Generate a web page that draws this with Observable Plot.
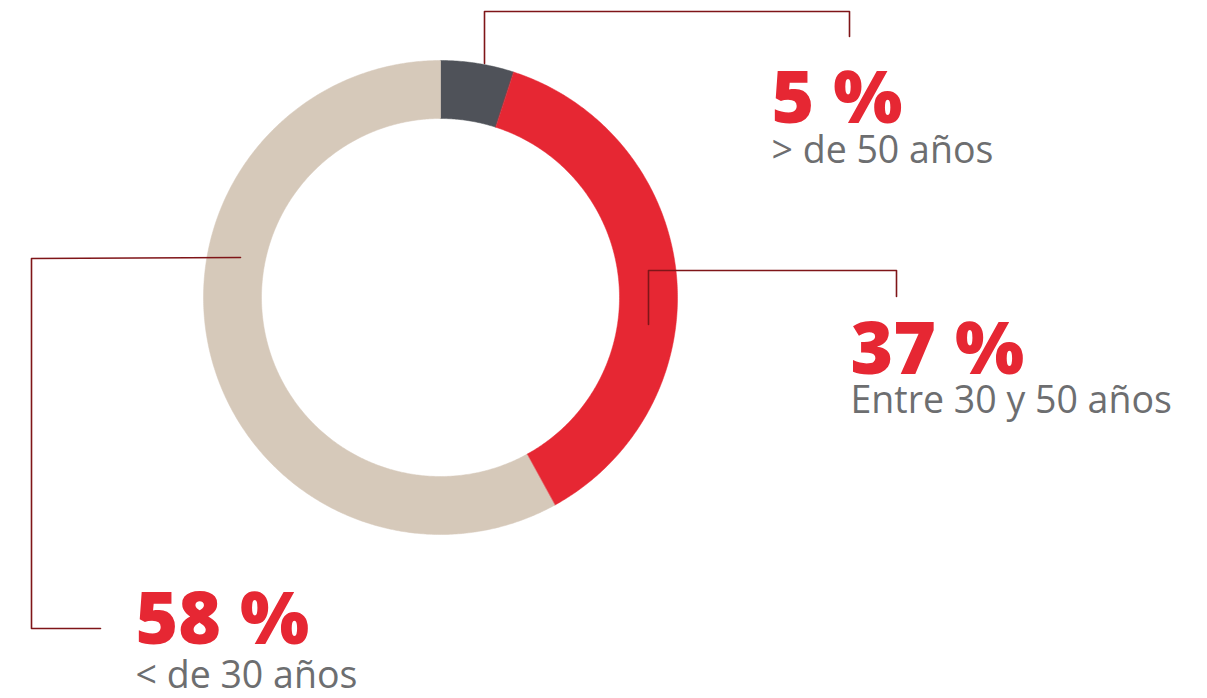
<!DOCTYPE html>
<html><head><meta charset="utf-8">
<script src="https://cdn.jsdelivr.net/npm/d3@7"></script>
<script src="https://cdn.jsdelivr.net/npm/@observablehq/plot@0.6"></script>
<style>html,body{margin:0;padding:0;background:#fff}</style>
</head><body><div id="chart"></div>
<script>
// ---- data ----
const groups = ["> de 50 años", "Entre 30 y 50 años", "< de 30 años"];
const shares = [5, 37, 58];
const pctLabels = ["5 %", "37 %", "58 %"];
const colors = ["#4f5259", "#e62733", "#d6c9ba"];

// ---- layout (pixels) ----
const W = 1207, H = 698;
const cx = 440, cy = 297, rOuter = 237, rInner = 179;
const labelPos = [
  {x: 771, yBig: 122, ySmall: 162},
  {x: 850, yBig: 373, ySmall: 412},
  {x: 135, yBig: 643, ySmall: 687}
];
const leaders = [
  [[484, 63], [484, 11], [849, 11], [849, 36]],
  [[648, 324], [648, 270], [896, 270], [896, 296]],
  [[240, 257], [31, 258], [31, 628], [100, 628]]
];

// ---- build ring slices from shares ----
const total = d3.sum(shares);
const slices = [];
let acc = 0;
shares.forEach((v, i) => {
  const a0 = acc / total * 2 * Math.PI;
  acc += v;
  const a1 = acc / total * 2 * Math.PI;
  const n = Math.max(2, Math.ceil((a1 - a0) / (Math.PI / 360)));
  const pts = [];
  for (let k = 0; k <= n; k++) {
    const a = a0 + (a1 - a0) * k / n;
    pts.push({g: groups[i], x: cx + rOuter * Math.sin(a), y: cy - rOuter * Math.cos(a)});
  }
  for (let k = n; k >= 0; k--) {
    const a = a0 + (a1 - a0) * k / n;
    pts.push({g: groups[i], x: cx + rInner * Math.sin(a), y: cy - rInner * Math.cos(a)});
  }
  slices.push(...pts);
});

const leaderPts = leaders.flatMap((pl, i) => pl.map(([x, y]) => ({g: groups[i], x, y})));
const bigText = groups.map((g, i) => ({x: labelPos[i].x, y: labelPos[i].yBig, t: pctLabels[i]}));
const smallText = groups.map((g, i) => ({x: labelPos[i].x, y: labelPos[i].ySmall, t: g}));

const chart = Plot.plot({
  width: W, height: H,
  margin: 0,
  x: {domain: [0, W], range: [0, W], axis: null},
  y: {domain: [0, H], range: [0, H], axis: null},
  color: {domain: groups, range: colors},
  style: {background: "#fff"},
  marks: [
    Plot.line(slices, {x: "x", y: "y", z: "g", fill: "g", stroke: "g", strokeWidth: 0.5, curve: "linear-closed"}),
    Plot.line(leaderPts, {x: "x", y: "y", z: "g", stroke: "#7f1518", strokeWidth: 1.6}),
    Plot.text(bigText, {x: "x", y: "y", text: "t", textAnchor: "start", lineAnchor: "bottom",
      fontSize: 73, fontWeight: 800, fill: "#e62733", fontFamily: "'Open Sans', Lato, sans-serif"}),
    Plot.text(smallText, {x: "x", y: "y", text: "t", textAnchor: "start", lineAnchor: "bottom",
      fontSize: 37.5, fontWeight: 400, fill: "#6d6e70", fontFamily: "'Open Sans', Lato, sans-serif"})
  ]
});
document.getElementById("chart").appendChild(chart);
</script>
</body></html>
